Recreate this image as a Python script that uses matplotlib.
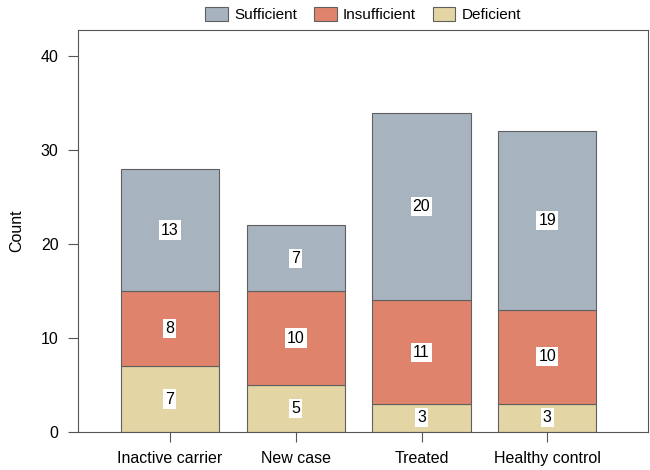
import matplotlib.pyplot as plt
import numpy as np

plt.rcParams['font.family'] = ['Liberation Sans', 'DejaVu Sans']

groups = ['Inactive carrier', 'New case', 'Treated', 'Healthy control']
deficient = [7, 5, 3, 3]
insufficient = [8, 10, 11, 10]
sufficient = [13, 7, 20, 19]

colors = {'Sufficient': '#a8b3c0', 'Insufficient': '#e0836c', 'Deficient': '#e4d5a4'}

fig = plt.figure(figsize=(6.5, 4.7), dpi=100)
ax = fig.add_axes([0.12, 0.081, 0.877, 0.855])

x = np.arange(len(groups))
w = 0.78
bottom = np.zeros(len(groups))
handles = {}
for name, vals in [('Deficient', deficient), ('Insufficient', insufficient), ('Sufficient', sufficient)]:
    vals = np.array(vals)
    bars = ax.bar(x, vals, w, bottom=bottom, color=colors[name],
                  edgecolor='#606060', linewidth=0.8, label=name)
    handles[name] = bars
    for xi, b, v in zip(x, bottom, vals):
        ax.text(xi, b + v / 2, str(v), ha='center', va='center', fontsize=11.5,
                bbox=dict(facecolor='white', edgecolor='none', pad=1.5))
    bottom += vals

ax.set_xlim(-0.73, 3.8)
ax.set_ylim(0, 42.8)
ax.set_yticks([0, 10, 20, 30, 40])
ax.set_xticks(x)
ax.set_xticklabels(groups)
ax.set_ylabel('Count', fontsize=11.5, labelpad=12)
ax.tick_params(labelsize=11.5, color='#555555', length=7, pad=7)
for s in ax.spines.values():
    s.set_color('#555555')

ax.legend([handles[n] for n in ['Sufficient', 'Insufficient', 'Deficient']],
          ['Sufficient', 'Insufficient', 'Deficient'],
          loc='lower center', bbox_to_anchor=(0.5, 1.0), ncol=3, frameon=False,
          fontsize=11, handlelength=1.5, handleheight=1.0, columnspacing=1.1,
          handletextpad=0.4, borderaxespad=0.1)

fig.savefig('out.png')
